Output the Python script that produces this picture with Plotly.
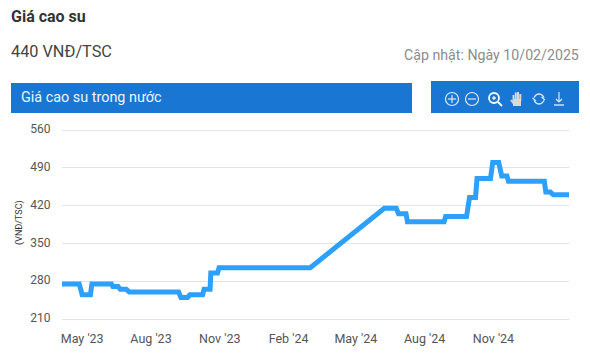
import plotly.graph_objects as go

W, H = 590, 361
L, R, T, B = 62, 569, 130, 319
PAD = 4 * (B - T) / 350  # pixels added by the 4-unit range padding

dates = ["2023-04-04","2023-04-27","2023-05-01","2023-05-12","2023-05-14","2023-06-09","2023-06-11","2023-06-18",
         "2023-06-21","2023-06-29","2023-07-03","2023-09-07","2023-09-10","2023-09-19","2023-09-22","2023-10-09",
         "2023-10-11","2023-10-19","2023-10-20","2023-10-29","2023-10-31","2024-03-01","2024-06-08","2024-06-24",
         "2024-06-27","2024-07-07","2024-07-09","2024-08-27","2024-08-29","2024-09-26","2024-09-30","2024-10-08",
         "2024-10-10","2024-10-28","2024-10-31","2024-11-08","2024-11-12","2024-11-19","2024-11-21","2025-01-08",
         "2025-01-10","2025-01-16","2025-01-20","2025-02-10"]
prices = [275,275,255,255,275,275,270,270,265,265,260,260,250,250,255,255,265,265,295,295,305,305,415,415,
          405,405,390,390,400,400,435,435,470,470,500,500,475,475,465,465,445,445,440,440]
x_ticks = ["2023-05-01","2023-08-01","2023-11-01","2024-02-01","2024-05-01","2024-08-01","2024-11-01"]
x_labels = ["May '23","Aug '23","Nov '23","Feb '24","May '24","Aug '24","Nov '24"]
y_ticks = [210,280,350,420,490,560]

FONT = "Roboto"
def px(x): return x / W
def py(y): return 1 - y / H

fig = go.Figure(go.Scatter(x=dates, y=prices, mode="lines",
                           line=dict(color="#2CA0FC", width=5), hoverinfo="skip"))

def text(x, y, s, size, color, anchor="left", bold=False, angle=0):
    shift = {"left": -2, "right": 2, "center": 0}[anchor]
    fig.add_annotation(xref="paper", yref="paper", x=px(x), y=py(y), text=f"<b>{s}</b>" if bold else s,
                       showarrow=False, xanchor=anchor, yanchor="middle", textangle=angle,
                       xshift=shift, font=dict(family=FONT, size=size, color=color))

def rect(x0, y0, x1, y1, color):
    fig.add_shape(type="rect", xref="paper", yref="paper", x0=px(x0), x1=px(x1), y0=py(y0), y1=py(y1),
                  fillcolor=color, line_width=0, layer="below")

def circle(cx, cy, r, width=1.2, color="#dfe9f5"):
    fig.add_shape(type="circle", xref="paper", yref="paper", x0=px(cx-r), x1=px(cx+r), y0=py(cy-r), y1=py(cy+r),
                  line=dict(color=color, width=width))

def seg(x0, y0, x1, y1, width=1.2, color="#dfe9f5"):
    fig.add_shape(type="line", xref="paper", yref="paper", x0=px(x0), x1=px(x1), y0=py(y0), y1=py(y1),
                  line=dict(color=color, width=width))

text(11, 17, "Giá cao su", 16, "#333333", bold=True)
text(11, 52, "440 VNĐ/TSC", 16.3, "#444444")
text(579, 55, "Cập nhật: Ngày 10/02/2025", 14.2, "#8c8c8c", anchor="right")
rect(11, 83, 412, 113, "#1976D2")
rect(431, 81, 579, 113, "#1976D2")
text(21, 97, "Giá cao su trong nước", 14.4, "#eef5fc")
text(19, 223, "(VNĐ/TSC)", 9, "#333333", anchor="center", angle=-90)

# toolbar icons
circle(452, 99, 6.5); seg(448, 99, 456, 99); seg(452, 95, 452, 103)
circle(472, 99, 6.5); seg(468, 99, 476, 99)
circle(494, 98, 5, 1.8, "#ffffff"); seg(492, 98, 496, 98, 1.2, "#ffffff"); seg(494, 96, 494, 100, 1.2, "#ffffff")
seg(498, 102, 502, 106, 1.8, "#ffffff")
for hx, top in [(513.5, 95), (515.8, 92.5), (518, 92), (520.3, 94)]:
    seg(hx, top, hx, 101, 2, "#d9d9d9")
seg(511, 100, 514, 104, 2, "#d9d9d9")
fig.add_shape(type="rect", xref="paper", yref="paper", x0=px(513), x1=px(521), y0=py(106), y1=py(99),
              fillcolor="#d9d9d9", line_width=0)
fig.add_shape(type="circle", xref="paper", yref="paper", x0=px(534), x1=px(544), y0=py(104), y1=py(94),
              line=dict(color="#dfe9f5", width=1.3))
seg(532, 99, 536, 99, 2.5, "#1976D2"); seg(542, 99, 546, 99, 2.5, "#1976D2")
seg(532.5, 98, 536, 101, 1.2); seg(541.5, 97, 545, 100, 1.2)
seg(559, 92, 559, 102); seg(556, 99, 559, 102); seg(562, 99, 559, 102); seg(554, 105, 564, 105, 1.4)

fig.update_layout(
    width=W, height=H, margin=dict(l=0, r=0, t=0, b=0),
    paper_bgcolor="#ffffff", plot_bgcolor="#ffffff", showlegend=False,
    font=dict(family=FONT, size=12, color="#555555"),
    xaxis=dict(domain=[px(L), px(R)], range=["2023-04-04", "2025-02-10"], type="date",
               tickmode="array", tickvals=x_ticks, ticktext=x_labels, showgrid=False, zeroline=False,
               showline=False, ticks="", ticklen=0, ticklabelstandoff=8,
               tickfont=dict(size=12.5, color="#555555", family=FONT), automargin=False),
    yaxis=dict(domain=[py(B + PAD), py(T - PAD)], range=[206, 564], tickmode="array", tickvals=y_ticks,
               showgrid=True, gridcolor="#e3e3e3", gridwidth=1, zeroline=False, showline=False,
               ticks="outside", ticklen=8, tickcolor="rgba(0,0,0,0)", ticklabelshift=-1,
               tickfont=dict(size=12, color="#555555", family=FONT), automargin=False),
)
fig.write_html("out.html", config={"displayModeBar": False},
               post_script="document.body.style.margin='0';")
